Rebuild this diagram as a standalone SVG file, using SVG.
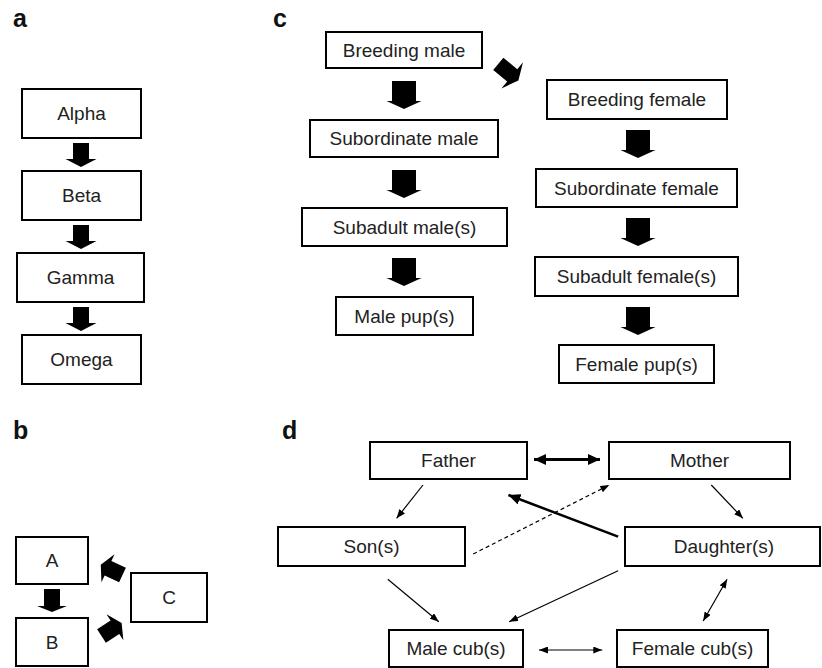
<svg xmlns="http://www.w3.org/2000/svg" width="822" height="668" viewBox="0 0 822 668">
<style>
.box{fill:#fff;stroke:#000;stroke-width:2}
.t{font-family:"Liberation Sans",Arial,sans-serif;font-size:19px;fill:#222;text-anchor:middle}
.lbl{font-family:"Liberation Sans",Arial,sans-serif;font-size:25px;font-weight:bold;fill:#111}
.blk{fill:#000}
.thin{stroke:#000;stroke-width:1.2;fill:none}
.thick{stroke:#000;stroke-width:3;fill:none}
.mid{stroke:#000;stroke-width:2.5;fill:none}
.dash{stroke:#000;stroke-width:1.2;fill:none;stroke-dasharray:4 3}
</style>
<defs>
<path id="blkA" d="M-8,0 H8 V16 H15.5 L0,24 L-15.5,16 H-8 Z"/>
<path id="blkC" d="M-12,0 H12 V20 H17.5 L0,28 L-17.5,20 H-12 Z"/>
<path id="blkD" d="M-8,0 H8 V18 H17 L0,26 L-17,18 H-8 Z"/>
<marker id="ah" viewBox="0 0 9 7" markerWidth="9" markerHeight="7" refX="9" refY="3.5" orient="auto-start-reverse" markerUnits="userSpaceOnUse"><path d="M0,0 L9,3.5 L0,7 Z" fill="#000"/></marker>
<marker id="ahB" viewBox="0 0 12 11" markerWidth="12" markerHeight="11" refX="12" refY="5.5" orient="auto-start-reverse" markerUnits="userSpaceOnUse"><path d="M0,0 L12,5.5 L0,11 Z" fill="#000"/></marker>
</defs>

<!-- panel labels -->
<text class="lbl" x="13" y="27">a</text>
<text class="lbl" x="273" y="27">c</text>
<text class="lbl" x="13" y="439">b</text>
<text class="lbl" x="282" y="439">d</text>

<!-- panel a -->
<g id="a-alpha"><rect class="box" x="22" y="89" width="119" height="49"/><text class="t" x="81.5" y="120">Alpha</text></g>
<g id="a-beta"><rect class="box" x="22" y="171" width="119" height="49"/><text class="t" x="81.5" y="202">Beta</text></g>
<g id="a-gamma"><rect class="box" x="17" y="253" width="127" height="49"/><text class="t" x="80.5" y="284">Gamma</text></g>
<g id="a-omega"><rect class="box" x="22" y="335" width="119" height="49"/><text class="t" x="81.5" y="366">Omega</text></g>

<!-- panel c -->
<g id="c-bm"><rect class="box" x="326" y="32" width="156" height="36"/><text class="t" x="404" y="56.5">Breeding male</text></g>
<g id="c-sm"><rect class="box" x="310" y="120" width="188" height="37"/><text class="t" x="404" y="145">Subordinate male</text></g>
<g id="c-sam"><rect class="box" x="302" y="208" width="205" height="38"/><text class="t" x="404.5" y="233.5">Subadult male(s)</text></g>
<g id="c-mp"><rect class="box" x="336" y="297" width="137" height="38"/><text class="t" x="404.5" y="322.5">Male pup(s)</text></g>
<g id="c-bf"><rect class="box" x="547" y="80" width="180" height="39"/><text class="t" x="637" y="106">Breeding female</text></g>
<g id="c-sf"><rect class="box" x="536" y="169" width="201" height="38"/><text class="t" x="636.5" y="194.5">Subordinate female</text></g>
<g id="c-saf"><rect class="box" x="535" y="257" width="203" height="39"/><text class="t" x="636.5" y="283">Subadult female(s)</text></g>
<g id="c-fp"><rect class="box" x="559" y="345" width="155" height="38"/><text class="t" x="636.5" y="370.5">Female pup(s)</text></g>

<!-- panel b -->
<g id="b-A"><rect class="box" x="16" y="537" width="72" height="47"/><text class="t" x="52" y="567">A</text></g>
<g id="b-B"><rect class="box" x="16" y="618" width="72" height="48"/><text class="t" x="52" y="649">B</text></g>
<g id="b-C"><rect class="box" x="131" y="573" width="76" height="49"/><text class="t" x="169" y="604">C</text></g>

<!-- panel d -->
<g id="d-father"><rect class="box" x="370" y="442" width="157" height="37"/><text class="t" x="448.5" y="467">Father</text></g>
<g id="d-mother"><rect class="box" x="609" y="442" width="181" height="37"/><text class="t" x="699.5" y="467">Mother</text></g>
<g id="d-son"><rect class="box" x="278" y="527" width="187" height="39"/><text class="t" x="371.5" y="553">Son(s)</text></g>
<g id="d-daughter"><rect class="box" x="625" y="527" width="195" height="39"/><text class="t" x="724" y="553">Daughter(s)</text></g>
<g id="d-malecub"><rect class="box" x="389" y="630" width="134" height="37"/><text class="t" x="456" y="655">Male cub(s)</text></g>
<g id="d-femalecub"><rect class="box" x="617" y="630" width="151" height="37"/><text class="t" x="692.5" y="655">Female cub(s)</text></g>

<!-- connectors -->
<g id="connectors">
<use href="#blkA" class="blk" x="0" y="0" transform="translate(81,143)"/>
<use href="#blkA" class="blk" transform="translate(81,225)"/>
<use href="#blkA" class="blk" transform="translate(81,307)"/>

<use href="#blkC" class="blk" transform="translate(404,81)"/>
<use href="#blkC" class="blk" transform="translate(404,170)"/>
<use href="#blkC" class="blk" transform="translate(404,258)"/>
<use href="#blkC" class="blk" transform="translate(638,130)"/>
<use href="#blkC" class="blk" transform="translate(638,218)"/>
<use href="#blkC" class="blk" transform="translate(638,307)"/>
<use href="#blkD" class="blk" transform="translate(498.3,63.9) rotate(-50.6)"/>

<path class="blk" d="M-8,0 H8 V17 H15 L0,23 L-15,17 H-8 Z" transform="translate(52,589)"/>
<use href="#blkA" class="blk" transform="translate(122.5,575) rotate(115)"/>
<use href="#blkA" class="blk" transform="translate(101.5,636) rotate(-123)"/>

<line class="thick" x1="534" y1="459.5" x2="600" y2="459.5" marker-start="url(#ahB)" marker-end="url(#ahB)"/>
<line class="thin" x1="423" y1="485" x2="396.6" y2="518.3" marker-end="url(#ah)"/>
<line class="thin" x1="711.3" y1="485" x2="742.9" y2="518.3" marker-end="url(#ah)"/>
<line class="dash" x1="473.2" y1="554" x2="609.3" y2="485" marker-end="url(#ah)"/>
<line class="mid" x1="618.1" y1="536.7" x2="508.4" y2="495" marker-end="url(#ahB)"/>
<line class="thin" x1="387.8" y1="579.3" x2="438.8" y2="621.7" marker-end="url(#ah)"/>
<line class="thin" x1="618.1" y1="570.7" x2="509.1" y2="621.7" marker-end="url(#ah)"/>
<line class="thin" x1="727.1" y1="579.3" x2="703.2" y2="621" marker-start="url(#ah)" marker-end="url(#ah)"/>
<line class="thin" x1="539" y1="650" x2="602.3" y2="650" marker-start="url(#ah)" marker-end="url(#ah)"/>
</g>
</svg>
